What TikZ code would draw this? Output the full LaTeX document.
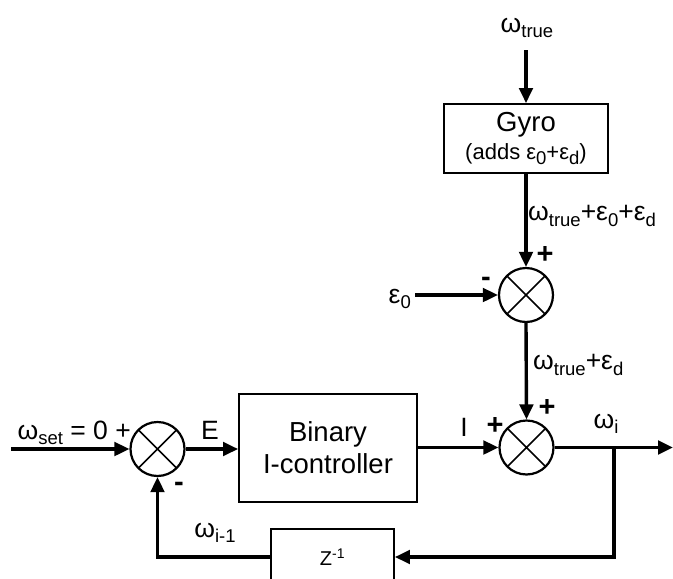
\documentclass[tikz,border=0pt]{standalone}
\usepackage{fontspec}
\setmainfont{Liberation Sans}
\usetikzlibrary{arrows.meta,positioning,calc}
\newcommand{\lowsub}[1]{\raisebox{-0.4ex}{\fontsize{18.5}{18}\selectfont #1}}
\tikzset{
  blockbox/.style={draw,line width=1.8pt,align=center,inner sep=0pt,
    font=\fontsize{27.5}{32}\selectfont},
  sumnode/.style={draw,circle,line width=2.2pt,minimum size=54pt,inner sep=0pt,
    path picture={\draw[line width=1.6pt]
      (path picture bounding box.north west)--(path picture bounding box.south east)
      (path picture bounding box.south west)--(path picture bounding box.north east);}},
  signalarrow/.style={-{Triangle[length=15pt,width=13.5pt]},line width=3.4pt},
  signallabel/.style={font=\fontsize{26.5}{30}\selectfont,inner sep=0pt},
  signmark/.style={font=\fontsize{29}{30}\selectfont\bfseries,inner sep=0pt}
}
\begin{document}
\begin{tikzpicture}[x=1pt,y=-1pt]
  \useasboundingbox (0,0) rectangle (673,579);
  % blocks
  \node[blockbox,minimum width=164pt,minimum height=69pt] (gyro) at (526,138.5)
    {Gyro\\[-4pt]{\fontsize{22}{25}\selectfont(adds ε\lowsub{0}+ε\lowsub{d})}};
  \node[blockbox,minimum width=178pt,minimum height=108pt] (ctrl) at (328,448)
    {Binary\\I-controller};
  \node[blockbox,minimum width=123pt,minimum height=56pt,
    font=\fontsize{20}{22}\selectfont] (delay) at (332.5,557) {Z\textsuperscript{-1}};
  % summing points
  \node[sumnode] (sumgyro) at (526,295) {};
  \node[sumnode] (sumout) at (526.5,447.5) {};
  \node[sumnode] (sumset) at (157.5,449) {};
  % free ends
  \coordinate (truein) at (526,50);
  \coordinate (epsin) at (415,295);
  \coordinate (setin) at (11,449);
  \coordinate (wiout) at (673,447.5);
  \coordinate (wibranch) at (614,447.5);
  % connectors
  \draw[signalarrow] (truein) -- (gyro.north);
  \draw[signalarrow] (gyro.south) -- (sumgyro.north);
  \draw[signalarrow] (epsin) -- (sumgyro.west);
  \draw[signalarrow] (sumgyro.south) -- (sumout.north);
  \draw[signalarrow] (setin) -- (sumset.west);
  \draw[signalarrow] (sumset.east) -- (ctrl.west |- sumset.east);
  \draw[signalarrow] (ctrl.east |- sumout.west) -- (sumout.west);
  \draw[signalarrow] (sumout.east) -- (wiout);
  \draw[signalarrow] (wibranch) |- (delay.east);
  \draw[signalarrow] (delay.west) -- (sumset |- delay.west) -- (sumset.south);
  % labels
  \node[signallabel] (truelabel) at (527,28) {ω\lowsub{true}};
  \node[signallabel,anchor=west] (gyrolabel) at (528,216) {ω\lowsub{true}+ε\lowsub{0}+ε\lowsub{d}};
  \node[signallabel,anchor=east] (epslabel) at (411,299) {ε\lowsub{0}};
  \node[signallabel,anchor=west] (truedlabel) at (533,365) {ω\lowsub{true}+ε\lowsub{d}};
  \node[signallabel,anchor=east] (setlabel) at (131,433) {ω\lowsub{set} = 0 +};
  \node[signallabel] (elabel) at (210,430) {E};
  \node[signallabel] (ilabel) at (464,427) {I};
  \node[signallabel] (wilabel) at (606,424) {ω\lowsub{i}};
  \node[signallabel] (wprevlabel) at (215,533) {ω\lowsub{i-1}};
  % signs
  \node[signmark] (plusg) at (545,255) {+};
  \node[signmark] (minusg) at (486,282) {-};
  \node[signmark] (plustop) at (547,408) {+};
  \node[signmark] (plusleft) at (495,426) {+};
  \node[signmark] (minusset) at (179,487) {-};
\end{tikzpicture}
\end{document}
